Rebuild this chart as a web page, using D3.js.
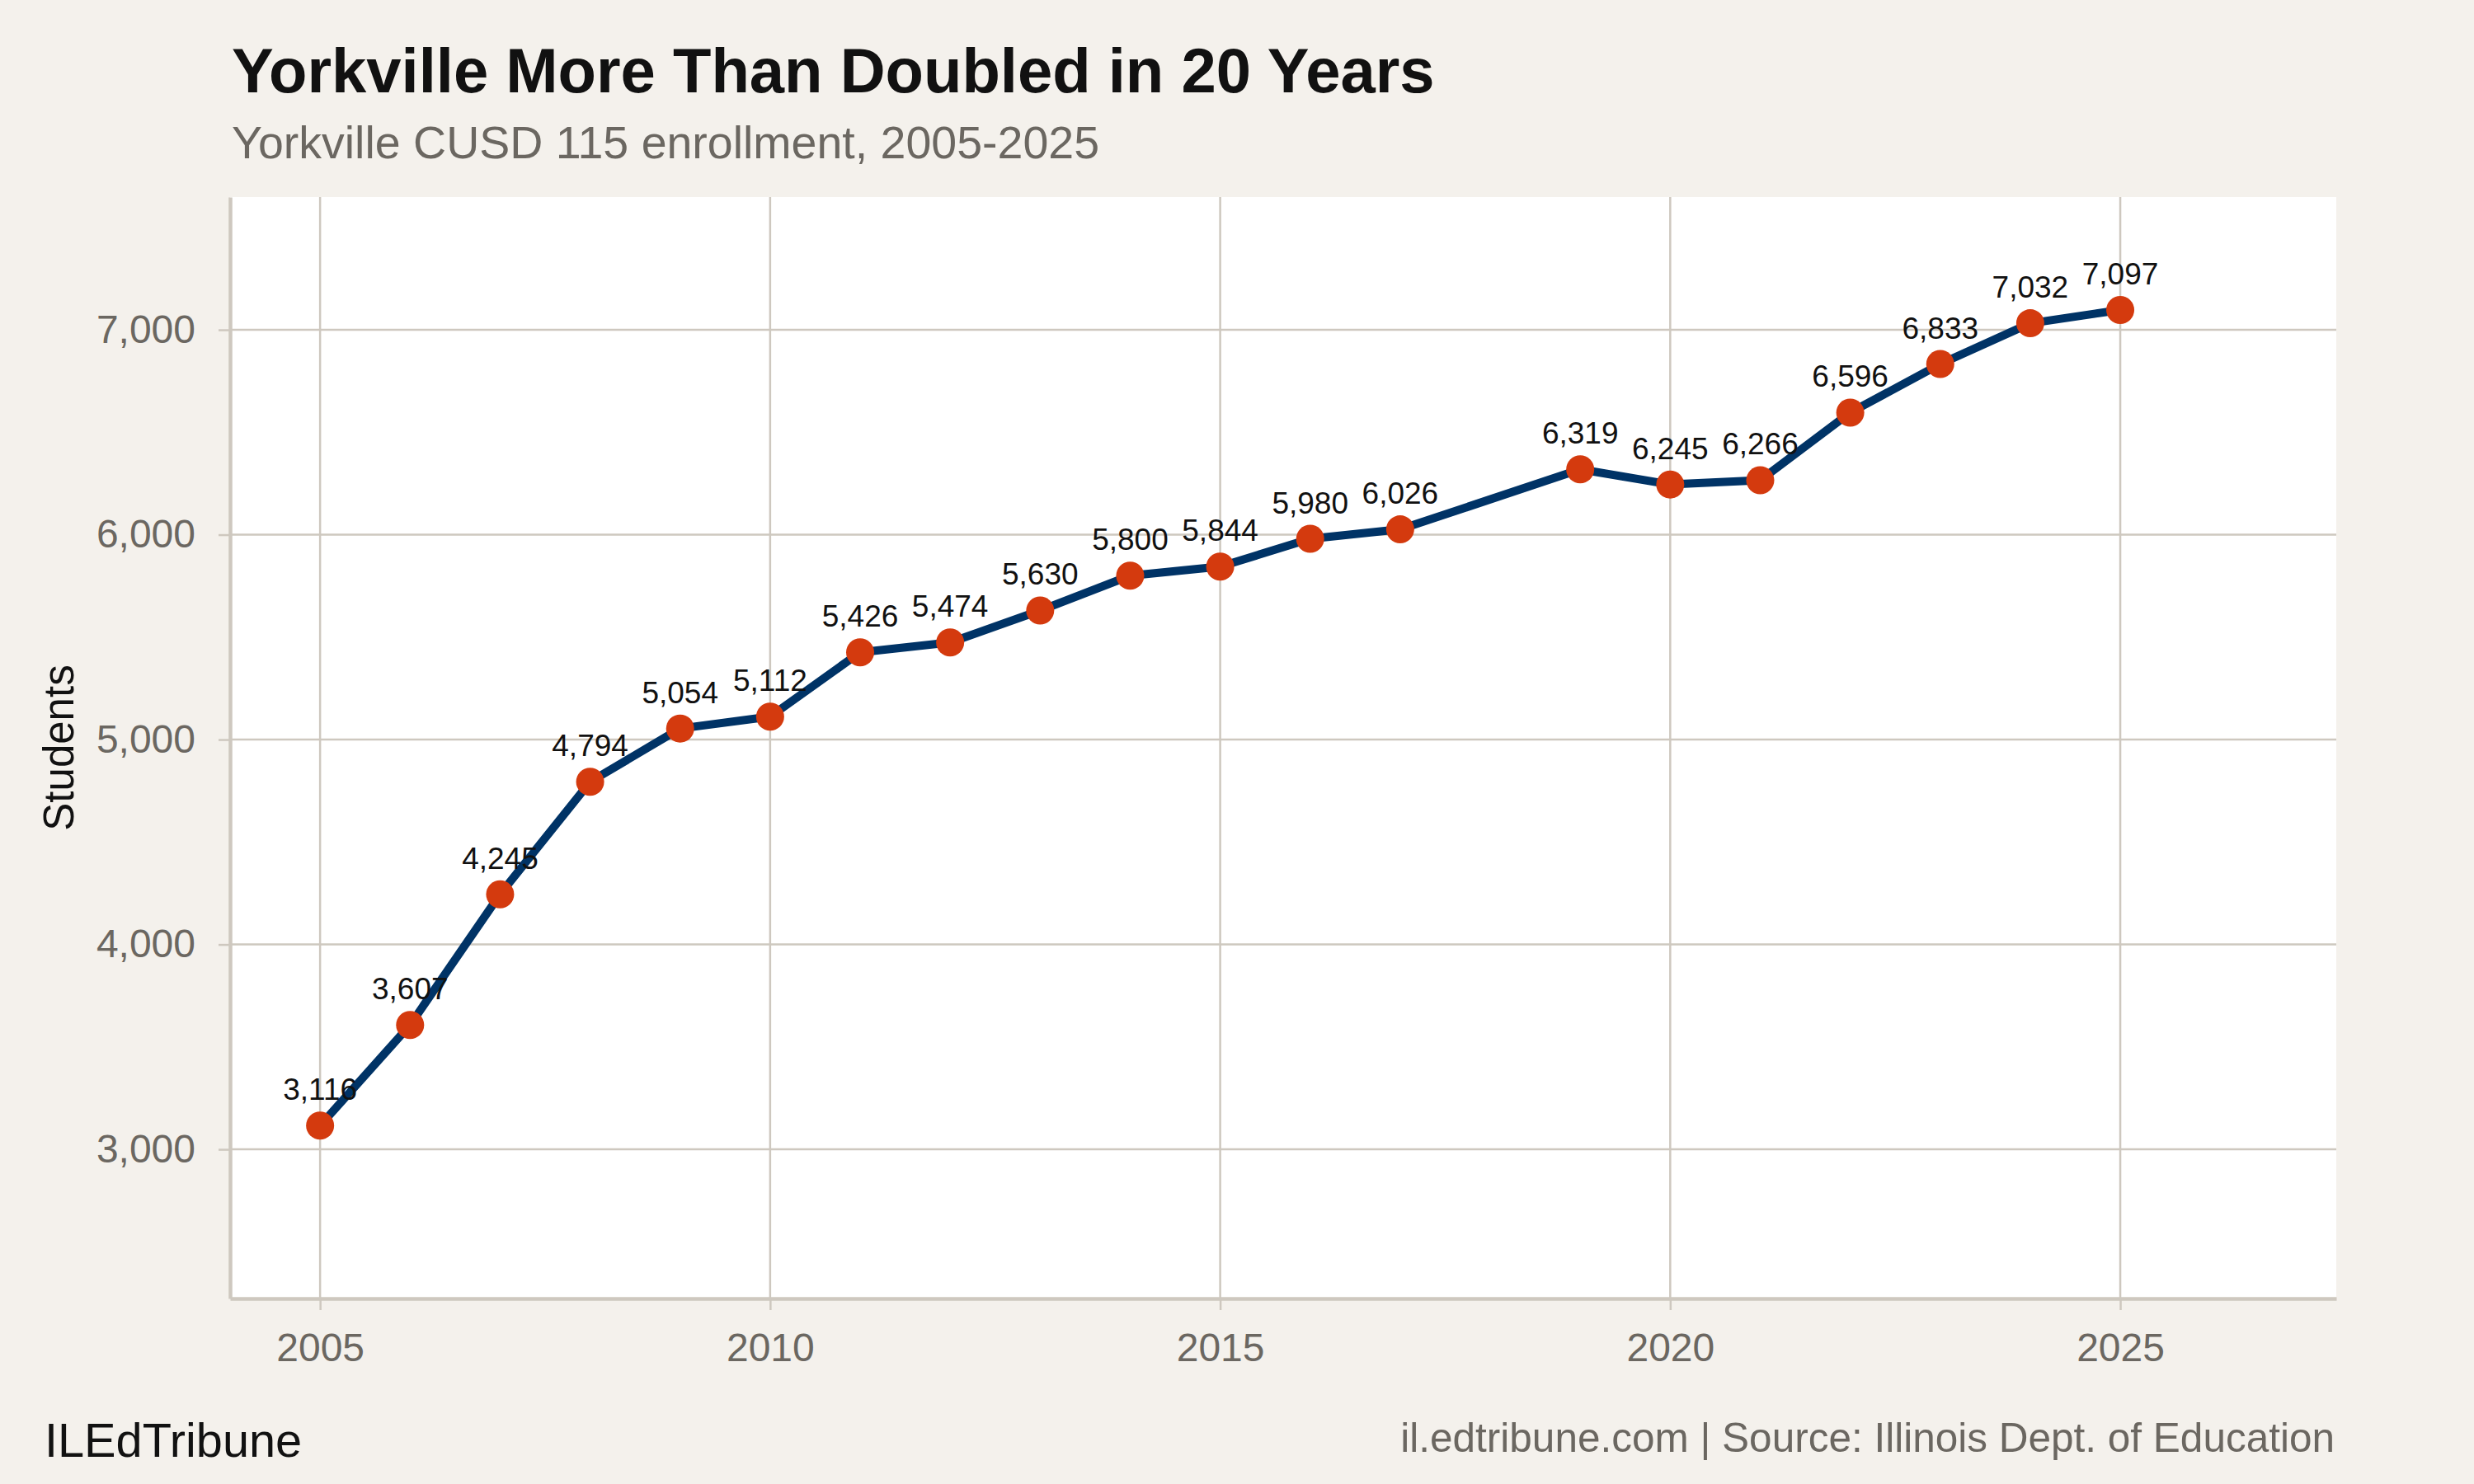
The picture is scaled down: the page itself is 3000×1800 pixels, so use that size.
<!DOCTYPE html>
<html>
<head>
<meta charset="utf-8">
<script src="https://cdn.jsdelivr.net/npm/d3@7"></script>
<style>
    body { margin: 0; background: #f4f1ec; }
    text { font-family: "Liberation Sans", Helvetica, Arial, sans-serif; }
</style>
</head>
<body>
<div id="chart"></div>
<script>
// Yorkville CUSD 115 enrollment chart

// Data (2018 not reported)
var years = [2005, 2006, 2007, 2008, 2009, 2010, 2011, 2012, 2013, 2014, 2015,
    2016, 2017, 2019, 2020, 2021, 2022, 2023, 2024, 2025];
var students = [3116, 3607, 4245, 4794, 5054, 5112, 5426, 5474, 5630, 5800, 5844,
    5980, 6026, 6319, 6245, 6266, 6596, 6833, 7032, 7097];
var xTicks = [2005, 2010, 2015, 2020, 2025];
var yTicks = [3000, 4000, 5000, 6000, 7000];

var svgWidth = 3000;
var svgHeight = 1800;

var margin = {
    top: 239,
    right: 167,
    bottom: 225,
    left: 279
};

var chartWidth = svgWidth - margin.left - margin.right;
var chartHeight = svgHeight - margin.top - margin.bottom;

var gridColor = "#cec8bf";
var greyText = "#6b6761";

var svg = d3.select("#chart")
    .append("svg")
    .attr("width", svgWidth)
    .attr("height", svgHeight);

svg.append("rect")
    .attr("width", svgWidth)
    .attr("height", svgHeight)
    .attr("fill", "#f4f1ec");

var chartGroup = svg.append("g")
    .attr("transform", `translate(${margin.left}, ${margin.top})`);

var rows = years.map((y, i) => ({ year: y, value: students[i] }));

// Scales
var xScale = d3.scaleLinear()
    .domain([2004, 2027.4])
    .range([0, chartWidth]);

var yScale = d3.scaleLinear()
    .domain([2272, 7648])
    .range([chartHeight, 0]);

// Panel
chartGroup.append("rect")
    .attr("width", chartWidth)
    .attr("height", chartHeight)
    .attr("fill", "#ffffff");

// Gridlines
chartGroup.append("g")
    .selectAll("line")
    .data(yTicks)
    .enter()
    .append("line")
    .attr("x1", 0)
    .attr("x2", chartWidth)
    .attr("y1", d => yScale(d))
    .attr("y2", d => yScale(d))
    .attr("stroke", gridColor)
    .attr("stroke-width", 2.5);

chartGroup.append("g")
    .selectAll("line")
    .data(xTicks)
    .enter()
    .append("line")
    .attr("y1", 0)
    .attr("y2", chartHeight)
    .attr("x1", d => xScale(d))
    .attr("x2", d => xScale(d))
    .attr("stroke", gridColor)
    .attr("stroke-width", 2.5);

// Axes
var bottomAxis = d3.axisBottom(xScale)
    .tickValues(xTicks)
    .tickFormat(d3.format("d"))
    .tickSize(14)
    .tickSizeOuter(0)
    .tickPadding(28);

var leftAxis = d3.axisLeft(yScale)
    .tickValues(yTicks)
    .tickFormat(d3.format(","))
    .tickSize(14)
    .tickSizeOuter(0)
    .tickPadding(28);

var xAxisG = chartGroup.append("g")
    .attr("transform", `translate(0, ${chartHeight})`)
    .call(bottomAxis);

var yAxisG = chartGroup.append("g")
    .call(leftAxis);

[xAxisG, yAxisG].forEach(function (g) {
    g.select(".domain")
        .attr("stroke", gridColor)
        .attr("stroke-width", 4.5);
    g.selectAll(".tick line")
        .attr("stroke", gridColor)
        .attr("stroke-width", 2.5);
    g.selectAll(".tick text")
        .attr("fill", greyText)
        .style("font-size", "48px");
});

// Line and points
var line = d3.line()
    .x(d => xScale(d.year))
    .y(d => yScale(d.value));

chartGroup.append("path")
    .datum(rows)
    .attr("d", line)
    .attr("fill", "none")
    .attr("stroke", "#003366")
    .attr("stroke-width", 10)
    .attr("stroke-linejoin", "round");

chartGroup.append("g")
    .selectAll("circle")
    .data(rows)
    .enter()
    .append("circle")
    .attr("cx", d => xScale(d.year))
    .attr("cy", d => yScale(d.value))
    .attr("r", 17)
    .attr("fill", "#d43a0e");

chartGroup.append("g")
    .selectAll("text")
    .data(rows)
    .enter()
    .append("text")
    .attr("x", d => xScale(d.year))
    .attr("y", d => yScale(d.value) - 31)
    .attr("text-anchor", "middle")
    .attr("fill", "#111111")
    .style("font-size", "37px")
    .text(d => d3.format(",")(d.value));

// Axis title
svg.append("text")
    .attr("transform", `translate(89, ${margin.top + chartHeight / 2}) rotate(-90)`)
    .attr("text-anchor", "middle")
    .attr("fill", "#111111")
    .style("font-size", "51px")
    .text("Students");

// Titles
svg.append("text")
    .attr("x", 281)
    .attr("y", 112)
    .attr("fill", "#111111")
    .style("font-size", "76px")
    .style("font-weight", "bold")
    .text("Yorkville More Than Doubled in 20 Years");

svg.append("text")
    .attr("x", 281)
    .attr("y", 192)
    .attr("fill", greyText)
    .style("font-size", "55.5px")
    .text("Yorkville CUSD 115 enrollment, 2005-2025");

// Footer
svg.append("text")
    .attr("x", 54)
    .attr("y", 1767)
    .attr("fill", "#111111")
    .style("font-size", "57.7px")
    .text("ILEdTribune");

svg.append("text")
    .attr("x", 2831)
    .attr("y", 1761)
    .attr("text-anchor", "end")
    .attr("fill", greyText)
    .style("font-size", "49.5px")
    .text("il.edtribune.com | Source: Illinois Dept. of Education");
</script>
</body>
</html>
